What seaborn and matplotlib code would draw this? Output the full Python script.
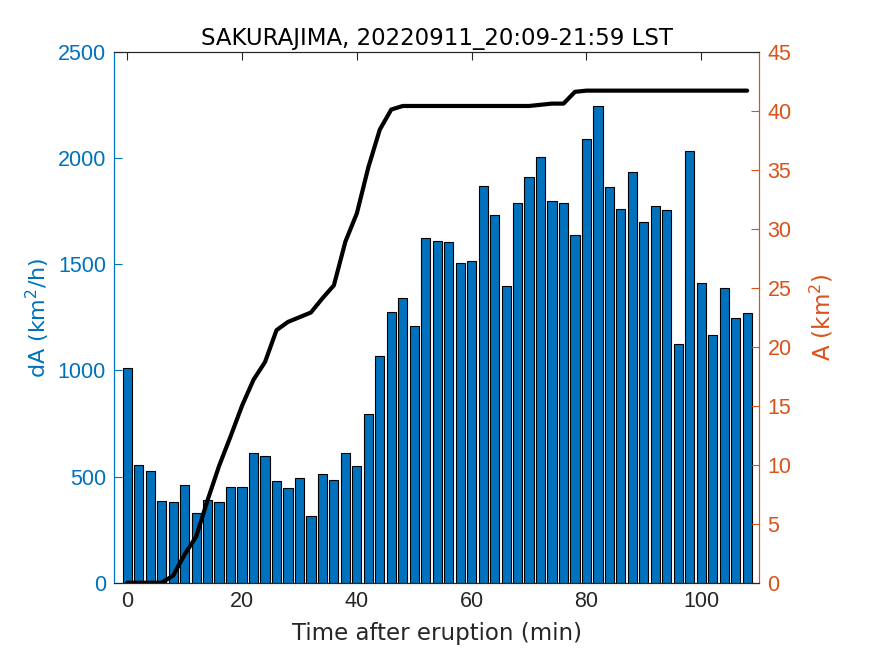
import matplotlib
matplotlib.use("Agg")
import matplotlib.pyplot as plt
import numpy as np
import pandas as pd
import seaborn as sns

# Data
minutes = list(range(0, 110, 2))
dA = [1011, 554, 527, 386, 381, 462, 328, 388, 381, 450,
      452, 613, 595, 479, 445, 492, 314, 512, 485, 610,
      549, 793, 1067, 1273, 1339, 1210, 1621, 1609, 1604, 1507,
      1515, 1870, 1732, 1399, 1789, 1912, 2004, 1799, 1786, 1638,
      2087, 2245, 1861, 1761, 1932, 1700, 1774, 1754, 1124, 2031,
      1413, 1168, 1389, 1247, 1272]
A = [0, 0, 0, 0, 0.6, 2.4, 3.9, 7.0, 9.9, 12.4,
     15.0, 17.2, 18.7, 21.4, 22.1, 22.5, 22.9, 24.1, 25.2, 28.9,
     31.3, 35.2, 38.4, 40.1, 40.4, 40.4, 40.4, 40.4, 40.4, 40.4,
     40.4, 40.4, 40.4, 40.4, 40.4, 40.4, 40.5, 40.6, 40.6, 41.6,
     41.7, 41.7, 41.7, 41.7, 41.7, 41.7, 41.7, 41.7, 41.7, 41.7,
     41.7, 41.7, 41.7, 41.7, 41.7]
title = "SAKURAJIMA, 20220911_20:09-21:59 LST"

df = pd.DataFrame({"t": minutes, "dA": dA, "A": A})

sns.set_style("white")
plt.rcParams["font.family"] = ["Liberation Sans", "DejaVu Sans"]
plt.rcParams["mathtext.fontset"] = "dejavusans"

blue = "#0072BD"
orange = "#D95319"
dark = "#262626"
fs = 15.5
wide = ["DejaVu Sans"]

fig = plt.figure(figsize=(8.75, 6.56), dpi=100)
ax = fig.add_axes([0.1306, 0.1117, 0.7371, 0.8095])

sns.barplot(data=df, x="t", y="dA", native_scale=True, width=0.8,
            color=blue, saturation=1, edgecolor="black", linewidth=0.8, ax=ax)
ax.set_xlim(-2.26, 110.1)
ax.set_ylim(0, 2500)
ax.set_xticks([0, 20, 40, 60, 80, 100])
ax.set_yticks(range(0, 2501, 500))

ax2 = ax.twinx()
sns.lineplot(data=df, x="t", y="A", color="black", linewidth=3, ax=ax2)
ax2.set_ylim(0, 45)
ax2.set_yticks(range(0, 46, 5))

ax.set_xlabel("Time after eruption (min)", fontsize=16.5, color=dark,
              family=wide, labelpad=7)
ax.set_ylabel("dA (km$^2$/h)", fontsize=16, color=blue, family=wide,
              labelpad=4)
ax2.set_ylabel("A (km$^2$)", fontsize=16.5, color=orange, family=wide,
               labelpad=12)
ax.set_title(title, fontsize=16.5, color="black", family=wide, pad=5)

ax.tick_params(axis="x", direction="in", top=True, length=6, labelsize=fs,
               labelcolor=dark, color=dark, pad=6)
ax.tick_params(axis="y", direction="in", length=6, labelsize=fs,
               labelcolor=blue, color=blue, pad=6)
ax2.tick_params(axis="y", direction="in", length=6, labelsize=fs,
                labelcolor=orange, color=orange, pad=6)

for a in (ax, ax2):
    for s in a.spines.values():
        s.set_visible(True)
        s.set_linewidth(0.8)
    a.spines["top"].set_color(dark)
    a.spines["bottom"].set_color(dark)
    a.spines["left"].set_color(blue)
    a.spines["right"].set_color(orange)

plt.savefig("out.png", dpi=100)
